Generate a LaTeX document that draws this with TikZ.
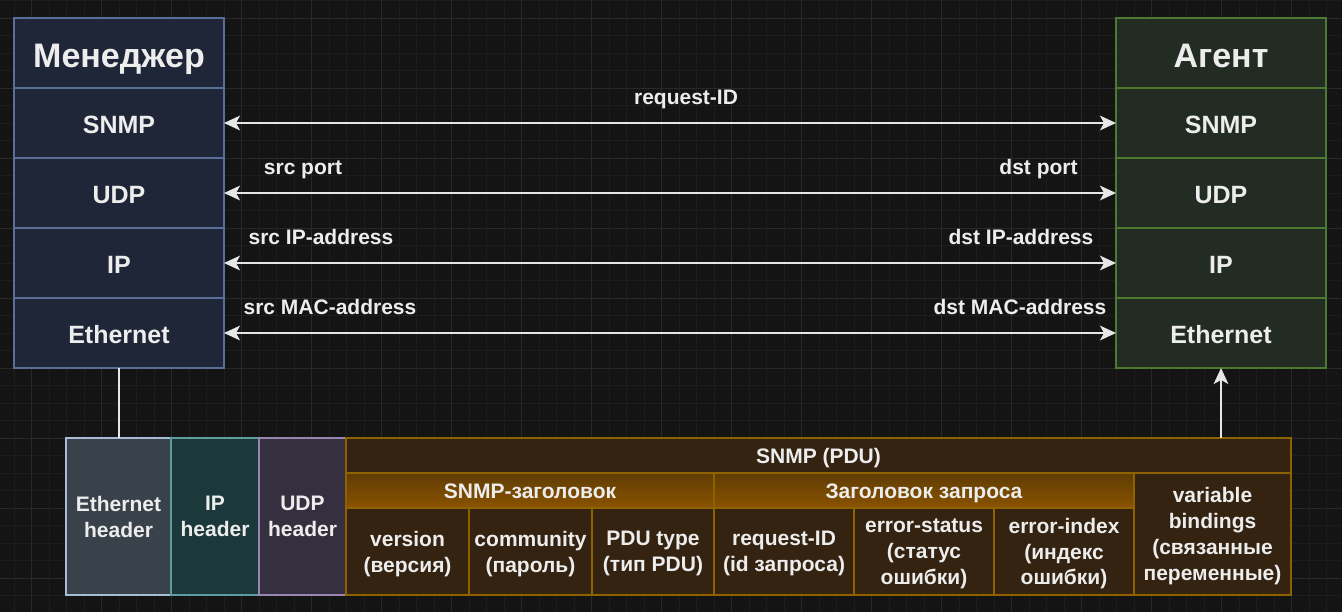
\documentclass[tikz,border=0pt]{standalone}
\usepackage{fontspec}
\setmainfont{Liberation Sans}
\usetikzlibrary{arrows.meta}

\definecolor{bg}{HTML}{141414}
\definecolor{gridminor}{HTML}{1D1D1D}
\definecolor{gridmajor}{HTML}{292929}
\definecolor{txt}{HTML}{EDEDED}
\definecolor{wire}{HTML}{E6E6E6}
\definecolor{mgrfill}{HTML}{1F2638}
\definecolor{mgrline}{HTML}{5A6F98}
\definecolor{agtfill}{HTML}{232C23}
\definecolor{agtline}{HTML}{4C7A30}
\definecolor{ethfill}{HTML}{39424B}
\definecolor{ethline}{HTML}{A9BCD6}
\definecolor{ipfill}{HTML}{1B393B}
\definecolor{ipline}{HTML}{5E9C9E}
\definecolor{udpfill}{HTML}{352F40}
\definecolor{udpline}{HTML}{9A84B2}
\definecolor{pdufill}{HTML}{332310}
\definecolor{pduline}{HTML}{8F6200}
\definecolor{hdrtop}{HTML}{5F3C03}
\definecolor{hdrbot}{HTML}{8A5300}

\tikzset{headtip/.tip={Stealth[length=12pt, width=11pt, inset=3pt]}}

\begin{document}
\begin{tikzpicture}[
  x=0.75pt, y=-0.75pt,
  sz/.style 2 args={minimum width={#1*0.75pt}, minimum height={#2*0.75pt}},
  base/.style={inner sep=0pt, outer sep=0pt, line width=1.3pt, text=txt, align=center},
  mgr/.style={base, draw=mgrline, fill=mgrfill},
  agt/.style={base, draw=agtline, fill=agtfill},
  % single-line texts: box height = cap height (+ offset), so caps sit on the centre
  titlefont/.style={font=\bfseries\fontsize{25.5}{30}\selectfont, text height=21.3pt, text depth=0pt},
  rowfont/.style={font=\bfseries\fontsize{18.75}{22}\selectfont, text height=16.4pt, text depth=0pt},
  lblfont/.style={font=\bfseries\fontsize{15.75}{19}\selectfont},
  cellfont/.style={font=\bfseries\fontsize{15.75}{19.4}\selectfont},
  oneline/.style={text height=11.3pt, text depth=0pt},
  multiline/.style={text depth=0pt},
  lbl/.style={lblfont, text=txt, inner sep=0pt, anchor=base},
  ethbox/.style={base, cellfont, multiline, draw=ethline, fill=ethfill},
  ipbox/.style={base, cellfont, multiline, draw=ipline, fill=ipfill},
  udpbox/.style={base, cellfont, multiline, draw=udpline, fill=udpfill},
  pdubox/.style={base, cellfont, draw=pduline, fill=pdufill},
  hdrbox/.style={base, cellfont, oneline, draw=pduline, top color=hdrtop, bottom color=hdrbot},
  link/.style={draw=wire, line width=1.5pt},
]
% background and grid
\fill[bg] (0,0) rectangle (1342,612);
\useasboundingbox (0,0) rectangle (1342,612);
\foreach \i in {0,...,77} {
  \draw[gridminor, line width=0.75pt] ({-3.5+17.5*\i},0) -- ++(0,612);
}
\foreach \j in {0,...,35} {
  \draw[gridminor, line width=0.75pt] (0,{0.5+17.5*\j}) -- ++(1342,0);
}
\foreach \i in {0,...,18} {
  \draw[gridmajor, line width=0.75pt] ({31.5+70*\i},0) -- ++(0,612);
}
\foreach \j in {0,...,8} {
  \draw[gridmajor, line width=0.75pt] (0,{18+70*\j}) -- ++(1342,0);
}

% manager stack
\node[mgr, titlefont, sz={210}{70}] (mtitle) at (119,53) {Менеджер};
\node[mgr, rowfont, sz={210}{70}] (msnmp) at (119,123) {SNMP};
\node[mgr, rowfont, sz={210}{70}] (mudp) at (119,193) {UDP};
\node[mgr, rowfont, sz={210}{70}] (mip) at (119,263) {IP};
\node[mgr, rowfont, sz={210}{70}] (meth) at (119,333) {Ethernet};

% agent stack
\node[agt, titlefont, sz={210}{70}] (atitle) at (1221,53) {Агент};
\node[agt, rowfont, sz={210}{70}] (asnmp) at (1221,123) {SNMP};
\node[agt, rowfont, sz={210}{70}] (audp) at (1221,193) {UDP};
\node[agt, rowfont, sz={210}{70}] (aip) at (1221,263) {IP};
\node[agt, rowfont, sz={210}{70}] (aeth) at (1221,333) {Ethernet};

% layer-to-layer exchanges
\draw[link, headtip-headtip] (msnmp.east) -- (asnmp.west);
\draw[link, headtip-headtip] (mudp.east) -- (audp.west);
\draw[link, headtip-headtip] (mip.east) -- (aip.west);
\draw[link, headtip-headtip] (meth.east) -- (aeth.west);

\node[lbl] (lreq) at (686,104) {request-ID};
\node[lbl] (lsport) at (303,174) {src port};
\node[lbl] (ldport) at (1038.5,174) {dst port};
\node[lbl] (lsip) at (321,244) {src IP-address};
\node[lbl] (ldip) at (1021,244) {dst IP-address};
\node[lbl] (lsmac) at (330,314) {src MAC-address};
\node[lbl] (ldmac) at (1020,314) {dst MAC-address};

% encapsulated frame
\node[ethbox, sz={105}{157}] (eth) at (118.5,516.5) {Ethernet\\header};
\node[ipbox, sz={88}{157}] (iph) at (215,516.5) {IP\\header};
\node[udpbox, sz={87}{157}] (udph) at (302.5,516.5) {UDP\\header};
\node[pdubox, oneline, sz={945}{35}] (pdu) at (818.5,455.5) {SNMP (PDU)};
\node[hdrbox, sz={368}{35}] (snmph) at (530,490.5) {SNMP-заголовок};
\node[hdrbox, sz={420}{35}] (reqh) at (924,490.5) {Заголовок запроса};
\node[pdubox, multiline, sz={157}{122}] (vb) at (1212.5,534) {variable\\bindings\\(связанные\\переменные)};
\node[pdubox, multiline, sz={123}{87}] (ver) at (407.5,551.5) {version\\(версия)};
\node[pdubox, multiline, sz={123}{87}] (comm) at (530.5,551.5) {community\\(пароль)};
\node[pdubox, multiline, sz={122}{87}] (ptype) at (653,551.5) {PDU type\\(тип PDU)};
\node[pdubox, multiline, sz={140}{87}] (rid) at (784,551.5) {request-ID\\(id запроса)};
\node[pdubox, multiline, sz={140}{87}] (est) at (924,551.5) {error-status\\(статус\\ошибки)};
\node[pdubox, multiline, sz={140}{87}] (eix) at (1064,551.5) {error-index\\(индекс\\ошибки)};

% frame leaves the manager and arrives at the agent
\draw[link] (meth.south) -- (meth.south |- eth.north);
\draw[link, -headtip] (aeth.south |- pdu.north) -- (aeth.south);
\end{tikzpicture}
\end{document}
